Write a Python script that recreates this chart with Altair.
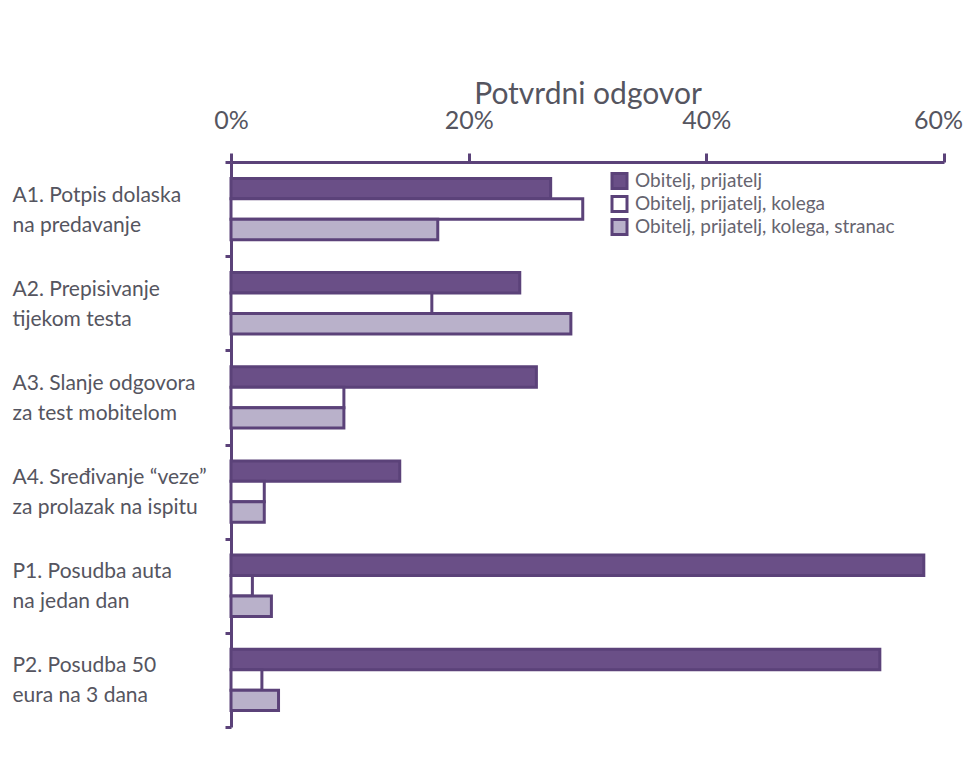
import altair as alt
import pandas as pd

categories = [
    "A1. Potpis dolaska|na predavanje",
    "A2. Prepisivanje|tijekom testa",
    "A3. Slanje odgovora|za test mobitelom",
    "A4. Sređivanje \u201cveze\u201d|za prolazak na ispitu",
    "P1. Posudba auta|na jedan dan",
    "P2. Posudba 50|eura na 3 dana",
]
series = [
    "Obitelj, prijatelj",
    "Obitelj, prijatelj, kolega",
    "Obitelj, prijatelj, kolega, stranac",
]
values_family = [26.9, 24.3, 25.7, 14.2, 58.3, 54.6]
values_colleague = [29.6, 16.9, 9.5, 2.8, 1.8, 2.6]
values_stranger = [17.4, 28.6, 9.5, 2.8, 3.4, 4.0]

rows = []
for i, c in enumerate(categories):
    for s, vals in zip(series, [values_family, values_colleague, values_stranger]):
        rows.append({"cat": c, "series": s, "value": vals[i]})
df = pd.DataFrame(rows)

PURPLE = "#6a4f87"
STROKE = "#5b4279"
GREY = "#b9b1ca"
TEXT = "#555560"
FONT = "Lato"

chart = alt.Chart(df).mark_bar(stroke=STROKE, strokeWidth=3).encode(
    x=alt.X(
        "value:Q",
        scale=alt.Scale(domain=[0, 60], nice=False),
        axis=alt.Axis(
            orient="top",
            title="Potvrdni odgovor",
            values=[0, 20, 40, 60],
            labelExpr="datum.value + '%'",
            labelFlush=False,
            labelOffset={"condition": {"test": "datum.value == 60", "value": -6}, "value": 0},
            grid=False,
            domainColor=STROKE,
            domainWidth=3,
            tickColor=STROKE,
            tickWidth=3,
            tickSize=9,
            labelFontSize=25,
            labelColor=TEXT,
            labelPadding=20,
            labelFont=FONT,
            titleFont=FONT,
            titleFontSize=30,
            titleFontWeight="normal",
            titleColor=TEXT,
            titlePadding=-1,
        ),
    ),
    y=alt.Y(
        "cat:N",
        sort=categories,
        scale=alt.Scale(paddingInner=0, paddingOuter=0),
        axis=alt.Axis(
            title=None,
            tickBand="extent",
            labelExpr="isValid(datum.value) ? split(datum.value, '|') : ''",
            labelAlign="left",
            labelBaseline="middle",
            labelPadding=213,
            labelOffset=-14,
            labelLimit=0,
            tickSize=6,
            tickColor=STROKE,
            tickWidth=3,
            domainColor=STROKE,
            domainWidth=3,
            labelFontSize=21,
            labelLineHeight=30,
            labelColor=TEXT,
            labelFont=FONT,
        ),
    ),
    yOffset=alt.YOffset(
        "series:N",
        sort=series,
        scale=alt.Scale(paddingOuter=0.8, paddingInner=0),
    ),
    color=alt.Color(
        "series:N",
        sort=series,
        scale=alt.Scale(domain=series, range=[PURPLE, "#ffffff", GREY]),
        legend=alt.Legend(
            title=None,
            orient="none",
            legendX=379,
            legendY=9,
            symbolType="square",
            symbolSize=225,
            symbolStrokeColor=STROKE,
            symbolStrokeWidth=3,
            symbolOpacity=1,
            labelFontSize=19,
            labelColor="#66646f",
            labelFont=FONT,
            labelLimit=0,
            clipHeight=20,
            rowPadding=3,
            labelOffset=6,
        ),
    ),
).properties(
    width=713,
    height=565,
    autosize=alt.AutoSizeParams(type="none"),
    padding={"left": 223, "top": 154, "right": 20, "bottom": 20},
    background="white",
).configure_view(stroke=None)

chart.save("out.html", embed_options={"renderer": "svg", "actions": False})
